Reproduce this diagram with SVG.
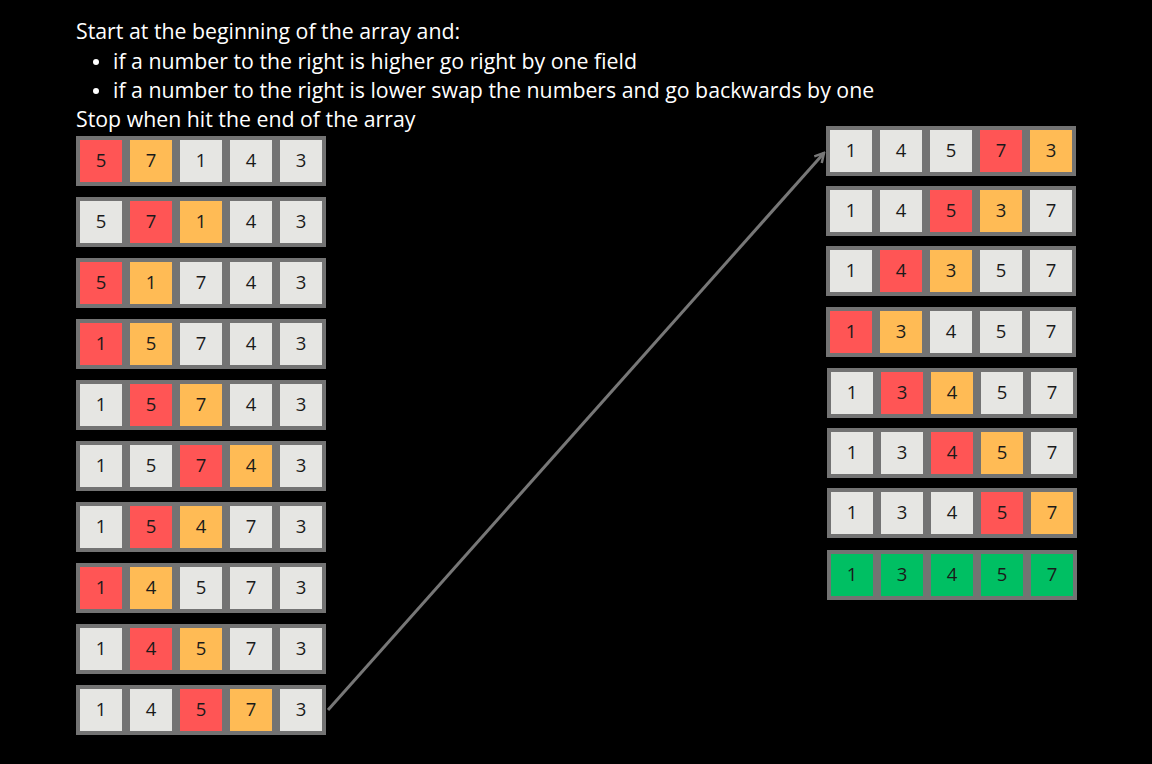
<svg xmlns="http://www.w3.org/2000/svg" width="1152" height="764" viewBox="0 0 1152 764">
<defs>
<style>
.t{font-family:"Open Sans","Liberation Sans",sans-serif;font-size:21.3px;fill:#ffffff}
.c{stroke:#737373;stroke-width:4}
.w{fill:#e6e6e3}.r{fill:#ff5555}.o{fill:#ffbb55}.g{fill:#00bf63}
.n{font-family:"Open Sans","Liberation Sans",sans-serif;font-size:18.5px;fill:#1a1a1a;text-anchor:middle}
</style>
<marker id="ah" viewBox="0 0 12 12" refX="10" refY="6" markerWidth="12" markerHeight="12" markerUnits="userSpaceOnUse" orient="auto">
<path d="M1,1 L10,6 L1,11" fill="none" stroke="#777777" stroke-width="2.5"/>
</marker>
</defs>
<rect width="1152" height="764" fill="#000000"/>
<g id="instructions">
<text class="t" x="76" y="39">Start at the beginning of the array and:</text>
<circle cx="96" cy="62" r="3" fill="#ffffff"/>
<text class="t" x="113" y="69">if a number to the right is higher go right by one field</text>
<circle cx="96" cy="91" r="3" fill="#ffffff"/>
<text class="t" x="113" y="98">if a number to the right is lower swap the numbers and go backwards by one</text>
<text class="t" x="76" y="127">Stop when hit the end of the array</text>
</g>
<g id="connectors">
<path d="M328,710 L824,153" fill="none" stroke="#777777" stroke-width="3" marker-end="url(#ah)"/>
</g>
<g id="left-row-1"><rect class="c r" x="78" y="138" width="46" height="46"/><rect class="c o" x="128" y="138" width="46" height="46"/><rect class="c w" x="178" y="138" width="46" height="46"/><rect class="c w" x="228" y="138" width="46" height="46"/><rect class="c w" x="278" y="138" width="46" height="46"/><text class="n" x="101" y="167">5</text><text class="n" x="151" y="167">7</text><text class="n" x="201" y="167">1</text><text class="n" x="251" y="167">4</text><text class="n" x="301" y="167">3</text></g>
<g id="left-row-2"><rect class="c w" x="78" y="199" width="46" height="46"/><rect class="c r" x="128" y="199" width="46" height="46"/><rect class="c o" x="178" y="199" width="46" height="46"/><rect class="c w" x="228" y="199" width="46" height="46"/><rect class="c w" x="278" y="199" width="46" height="46"/><text class="n" x="101" y="228">5</text><text class="n" x="151" y="228">7</text><text class="n" x="201" y="228">1</text><text class="n" x="251" y="228">4</text><text class="n" x="301" y="228">3</text></g>
<g id="left-row-3"><rect class="c r" x="78" y="260" width="46" height="46"/><rect class="c o" x="128" y="260" width="46" height="46"/><rect class="c w" x="178" y="260" width="46" height="46"/><rect class="c w" x="228" y="260" width="46" height="46"/><rect class="c w" x="278" y="260" width="46" height="46"/><text class="n" x="101" y="289">5</text><text class="n" x="151" y="289">1</text><text class="n" x="201" y="289">7</text><text class="n" x="251" y="289">4</text><text class="n" x="301" y="289">3</text></g>
<g id="left-row-4"><rect class="c r" x="78" y="321" width="46" height="46"/><rect class="c o" x="128" y="321" width="46" height="46"/><rect class="c w" x="178" y="321" width="46" height="46"/><rect class="c w" x="228" y="321" width="46" height="46"/><rect class="c w" x="278" y="321" width="46" height="46"/><text class="n" x="101" y="350">1</text><text class="n" x="151" y="350">5</text><text class="n" x="201" y="350">7</text><text class="n" x="251" y="350">4</text><text class="n" x="301" y="350">3</text></g>
<g id="left-row-5"><rect class="c w" x="78" y="382" width="46" height="46"/><rect class="c r" x="128" y="382" width="46" height="46"/><rect class="c o" x="178" y="382" width="46" height="46"/><rect class="c w" x="228" y="382" width="46" height="46"/><rect class="c w" x="278" y="382" width="46" height="46"/><text class="n" x="101" y="411">1</text><text class="n" x="151" y="411">5</text><text class="n" x="201" y="411">7</text><text class="n" x="251" y="411">4</text><text class="n" x="301" y="411">3</text></g>
<g id="left-row-6"><rect class="c w" x="78" y="443" width="46" height="46"/><rect class="c w" x="128" y="443" width="46" height="46"/><rect class="c r" x="178" y="443" width="46" height="46"/><rect class="c o" x="228" y="443" width="46" height="46"/><rect class="c w" x="278" y="443" width="46" height="46"/><text class="n" x="101" y="472">1</text><text class="n" x="151" y="472">5</text><text class="n" x="201" y="472">7</text><text class="n" x="251" y="472">4</text><text class="n" x="301" y="472">3</text></g>
<g id="left-row-7"><rect class="c w" x="78" y="504" width="46" height="46"/><rect class="c r" x="128" y="504" width="46" height="46"/><rect class="c o" x="178" y="504" width="46" height="46"/><rect class="c w" x="228" y="504" width="46" height="46"/><rect class="c w" x="278" y="504" width="46" height="46"/><text class="n" x="101" y="533">1</text><text class="n" x="151" y="533">5</text><text class="n" x="201" y="533">4</text><text class="n" x="251" y="533">7</text><text class="n" x="301" y="533">3</text></g>
<g id="left-row-8"><rect class="c r" x="78" y="565" width="46" height="46"/><rect class="c o" x="128" y="565" width="46" height="46"/><rect class="c w" x="178" y="565" width="46" height="46"/><rect class="c w" x="228" y="565" width="46" height="46"/><rect class="c w" x="278" y="565" width="46" height="46"/><text class="n" x="101" y="594">1</text><text class="n" x="151" y="594">4</text><text class="n" x="201" y="594">5</text><text class="n" x="251" y="594">7</text><text class="n" x="301" y="594">3</text></g>
<g id="left-row-9"><rect class="c w" x="78" y="626" width="46" height="46"/><rect class="c r" x="128" y="626" width="46" height="46"/><rect class="c o" x="178" y="626" width="46" height="46"/><rect class="c w" x="228" y="626" width="46" height="46"/><rect class="c w" x="278" y="626" width="46" height="46"/><text class="n" x="101" y="655">1</text><text class="n" x="151" y="655">4</text><text class="n" x="201" y="655">5</text><text class="n" x="251" y="655">7</text><text class="n" x="301" y="655">3</text></g>
<g id="left-row-10"><rect class="c w" x="78" y="687" width="46" height="46"/><rect class="c w" x="128" y="687" width="46" height="46"/><rect class="c r" x="178" y="687" width="46" height="46"/><rect class="c o" x="228" y="687" width="46" height="46"/><rect class="c w" x="278" y="687" width="46" height="46"/><text class="n" x="101" y="716">1</text><text class="n" x="151" y="716">4</text><text class="n" x="201" y="716">5</text><text class="n" x="251" y="716">7</text><text class="n" x="301" y="716">3</text></g>
<g id="right-row-1"><rect class="c w" x="828" y="128" width="46" height="46"/><rect class="c w" x="878" y="128" width="46" height="46"/><rect class="c w" x="928" y="128" width="46" height="46"/><rect class="c r" x="978" y="128" width="46" height="46"/><rect class="c o" x="1028" y="128" width="46" height="46"/><text class="n" x="851" y="157">1</text><text class="n" x="901" y="157">4</text><text class="n" x="951" y="157">5</text><text class="n" x="1001" y="157">7</text><text class="n" x="1051" y="157">3</text></g>
<g id="right-row-2"><rect class="c w" x="828" y="188" width="46" height="46"/><rect class="c w" x="878" y="188" width="46" height="46"/><rect class="c r" x="928" y="188" width="46" height="46"/><rect class="c o" x="978" y="188" width="46" height="46"/><rect class="c w" x="1028" y="188" width="46" height="46"/><text class="n" x="851" y="217">1</text><text class="n" x="901" y="217">4</text><text class="n" x="951" y="217">5</text><text class="n" x="1001" y="217">3</text><text class="n" x="1051" y="217">7</text></g>
<g id="right-row-3"><rect class="c w" x="828" y="248" width="46" height="46"/><rect class="c r" x="878" y="248" width="46" height="46"/><rect class="c o" x="928" y="248" width="46" height="46"/><rect class="c w" x="978" y="248" width="46" height="46"/><rect class="c w" x="1028" y="248" width="46" height="46"/><text class="n" x="851" y="277">1</text><text class="n" x="901" y="277">4</text><text class="n" x="951" y="277">3</text><text class="n" x="1001" y="277">5</text><text class="n" x="1051" y="277">7</text></g>
<g id="right-row-4"><rect class="c r" x="828" y="309" width="46" height="46"/><rect class="c o" x="878" y="309" width="46" height="46"/><rect class="c w" x="928" y="309" width="46" height="46"/><rect class="c w" x="978" y="309" width="46" height="46"/><rect class="c w" x="1028" y="309" width="46" height="46"/><text class="n" x="851" y="338">1</text><text class="n" x="901" y="338">3</text><text class="n" x="951" y="338">4</text><text class="n" x="1001" y="338">5</text><text class="n" x="1051" y="338">7</text></g>
<g id="right-row-5"><rect class="c w" x="829" y="370" width="46" height="46"/><rect class="c r" x="879" y="370" width="46" height="46"/><rect class="c o" x="929" y="370" width="46" height="46"/><rect class="c w" x="979" y="370" width="46" height="46"/><rect class="c w" x="1029" y="370" width="46" height="46"/><text class="n" x="852" y="399">1</text><text class="n" x="902" y="399">3</text><text class="n" x="952" y="399">4</text><text class="n" x="1002" y="399">5</text><text class="n" x="1052" y="399">7</text></g>
<g id="right-row-6"><rect class="c w" x="829" y="430" width="46" height="46"/><rect class="c w" x="879" y="430" width="46" height="46"/><rect class="c r" x="929" y="430" width="46" height="46"/><rect class="c o" x="979" y="430" width="46" height="46"/><rect class="c w" x="1029" y="430" width="46" height="46"/><text class="n" x="852" y="459">1</text><text class="n" x="902" y="459">3</text><text class="n" x="952" y="459">4</text><text class="n" x="1002" y="459">5</text><text class="n" x="1052" y="459">7</text></g>
<g id="right-row-7"><rect class="c w" x="829" y="490" width="46" height="46"/><rect class="c w" x="879" y="490" width="46" height="46"/><rect class="c w" x="929" y="490" width="46" height="46"/><rect class="c r" x="979" y="490" width="46" height="46"/><rect class="c o" x="1029" y="490" width="46" height="46"/><text class="n" x="852" y="519">1</text><text class="n" x="902" y="519">3</text><text class="n" x="952" y="519">4</text><text class="n" x="1002" y="519">5</text><text class="n" x="1052" y="519">7</text></g>
<g id="right-row-8"><rect class="c g" x="829" y="552" width="46" height="46"/><rect class="c g" x="879" y="552" width="46" height="46"/><rect class="c g" x="929" y="552" width="46" height="46"/><rect class="c g" x="979" y="552" width="46" height="46"/><rect class="c g" x="1029" y="552" width="46" height="46"/><text class="n" x="852" y="581">1</text><text class="n" x="902" y="581">3</text><text class="n" x="952" y="581">4</text><text class="n" x="1002" y="581">5</text><text class="n" x="1052" y="581">7</text></g>
</svg>
